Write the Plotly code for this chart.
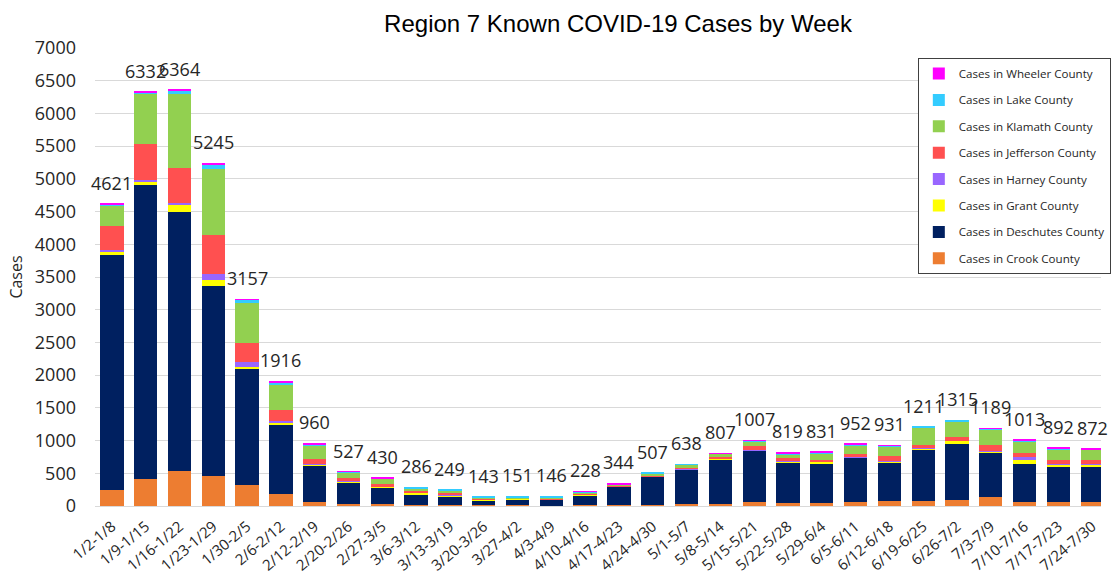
import plotly.graph_objects as go

weeks = ["1/2-1/8", "1/9-1/15", "1/16-1/22", "1/23-1/29", "1/30-2/5", "2/6-2/12",
         "2/12-2/19", "2/20-2/26", "2/27-3/5", "3/6-3/12", "3/13-3/19", "3/20-3/26",
         "3/27-4/2", "4/3-4/9", "4/10-4/16", "4/17-4/23", "4/24-4/30", "5/1-5/7",
         "5/8-5/14", "5/15-5/21", "5/22-5/28", "5/29-6/4", "6/5-6/11", "6/12-6/18",
         "6/19-6/25", "6/26-7/2", "7/3-7/9", "7/10-7/16", "7/17-7/23", "7/24-7/30"]

crook = [240, 419, 536, 460, 322, 189, 66, 31, 31, 15, 15, 8, 8, 5, 15, 15, 15, 31, 31, 61,
         46, 46, 61, 77, 77, 97, 133, 61, 61, 61]
deschutes = [3590, 4489, 3958, 2900, 1767, 1042, 546, 326, 245, 168, 133, 80, 92, 95, 148, 281,
             434, 520, 673, 780, 617, 597, 678, 587, 790, 847, 683, 581, 541, 541]
grant = [65, 56, 102, 97, 41, 36, 15, 10, 15, 20, 20, 10, 8, 4, 10, 5, 5, 5, 20, 8,
         10, 30, 5, 15, 5, 50, 20, 65, 25, 35]
harney = [12, 26, 36, 92, 66, 35, 20, 15, 5, 3, 3, 2, 2, 2, 5, 3, 3, 12, 3, 12,
          8, 5, 15, 5, 12, 5, 5, 35, 20, 5]
jefferson = [370, 546, 536, 588, 291, 169, 77, 41, 46, 30, 35, 10, 8, 10, 20, 10, 15, 15, 28, 50,
             55, 30, 30, 75, 56, 60, 85, 70, 56, 66]
klamath = [315, 771, 1129, 1011, 623, 383, 204, 87, 71, 30, 28, 22, 18, 20, 15, 15, 25, 45, 40, 80,
           55, 95, 140, 150, 255, 240, 245, 175, 165, 150]
lake = [18, 12, 51, 76, 41, 31, 16, 15, 12, 20, 15, 11, 15, 10, 5, 5, 10, 10, 5, 10,
        15, 10, 8, 20, 16, 16, 15, 8, 15, 10]
wheeler = [11, 13, 16, 21, 6, 31, 16, 2, 5, 0, 0, 0, 0, 0, 10, 10, 0, 0, 7, 6,
           13, 18, 15, 2, 0, 0, 3, 18, 9, 4]

totals = [4621, 6332, 6364, 5245, 3157, 1916, 960, 527, 430, 286, 249, 143, 151, 146, 228,
          344, 507, 638, 807, 1007, 819, 831, 952, 931, 1211, 1315, 1189, 1013, 892, 872]

series = [
    ("Cases in Crook County", crook, "#ED7D31"),
    ("Cases in Deschutes County", deschutes, "#002060"),
    ("Cases in Grant County", grant, "#FFFF00"),
    ("Cases in Harney County", harney, "#9966FF"),
    ("Cases in Jefferson County", jefferson, "#FF5050"),
    ("Cases in Klamath County", klamath, "#92D050"),
    ("Cases in Lake County", lake, "#33CCFF"),
    ("Cases in Wheeler County", wheeler, "#FF00FF"),
]

FONT = "Open Sans"
W, H = 1111, 574
ML, MR, MT, MB = 95, 0, 48, 68
PH = H - MT - MB

fig = go.Figure()
for i, (name, vals, col) in enumerate(series):
    fig.add_trace(go.Bar(x=weeks, y=vals, name=name, legendgroup=name,
                         legendrank=100 - i,
                         marker=dict(color=col, line=dict(width=0))))

for w, t in zip(weeks, totals):
    fig.add_annotation(x=w, y=t, text=str(t), showarrow=False, yanchor="middle",
                       yshift=21, font=dict(family=FONT, size=18, color="#262626"))

fig.update_layout(
    width=W, height=H,
    barmode="stack", bargap=0.31,
    plot_bgcolor="white", paper_bgcolor="white",
    margin=dict(l=ML, r=MR, t=MT, b=MB),
    title=dict(text="Region 7 Known COVID-19 Cases by Week", x=618 / W, xanchor="center",
               y=1 - 24 / H, yanchor="middle",
               font=dict(family="Liberation Sans", size=24, color="#000000")),
    legend=dict(x=(926 - ML) / (W - ML - MR), y=(H - MB - 58) / PH,
                xanchor="left", yanchor="top",
                traceorder="grouped", tracegroupgap=7.4,
                bgcolor="white", bordercolor="#404040", borderwidth=1,
                font=dict(family=FONT, size=11.6, color="#262626"), itemwidth=30),
    showlegend=True,
)
fig.update_xaxes(range=[-0.5, 29.26], tickangle=-40, showgrid=False,
                 showline=True, linecolor="#d9d9d9", linewidth=1, ticklabelstandoff=5,
                 tickfont=dict(family=FONT, size=15, color="#262626"))
fig.update_yaxes(range=[0, 7000], dtick=500, showgrid=True, gridcolor="#d9d9d9",
                 gridwidth=1, zeroline=False, ticklabelstandoff=18,
                 tickfont=dict(family=FONT, size=18, color="#262626"),
                 title=dict(text="Cases", font=dict(family=FONT, size=16, color="#262626"),
                            standoff=8))

fig.write_html("out.html", config={"displayModeBar": False},
               post_script="document.body.style.margin='0';document.body.style.overflow='hidden';")
